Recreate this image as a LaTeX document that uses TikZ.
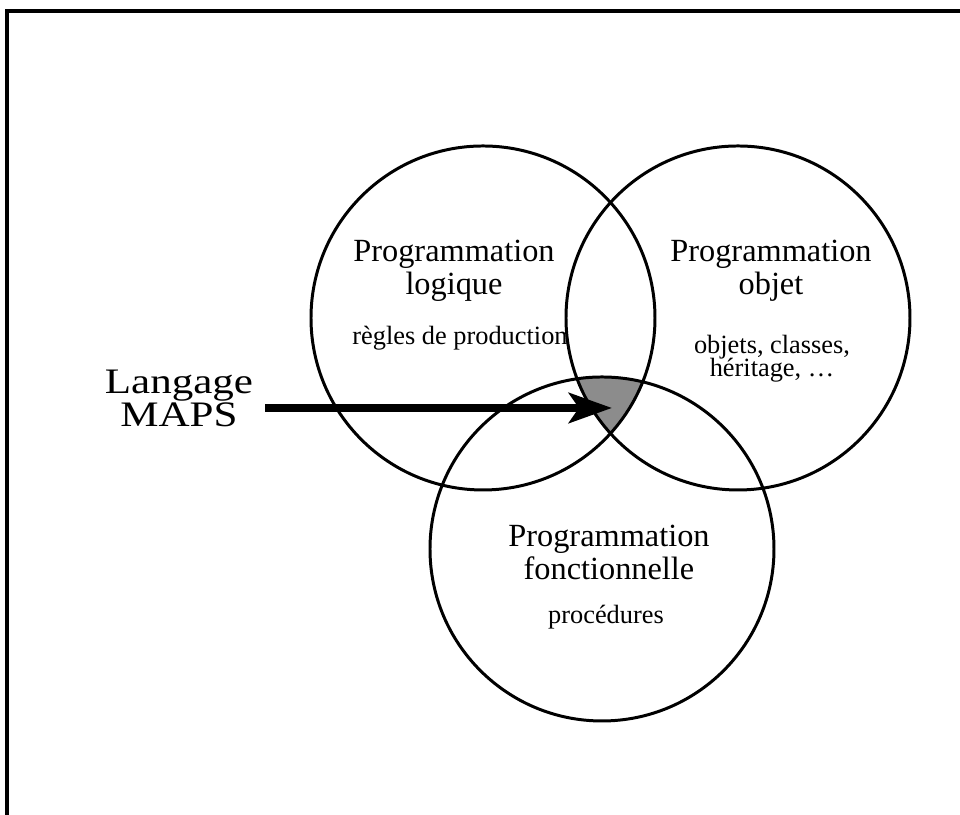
\documentclass[tikz,border=0pt]{standalone}
\usepackage{fontspec}
\setmainfont{Liberation Serif}
\newfontfamily\grandmaps[FakeStretch=1.2]{Liberation Serif}
\usetikzlibrary{arrows.meta}
\lineskiplimit=-20pt
\begin{document}
\begin{tikzpicture}[
    cercle/.style={line width=0.85pt},
    titre/.style={align=center, anchor=base, font=\fontsize{9.2}{9.4}\selectfont},
    detail/.style={align=center, anchor=base, font=\fontsize{7.5}{6.8}\selectfont}]
    \useasboundingbox (0,0) rectangle (9.6,8.15);
    \draw[line width=1.1pt] (0.07,0) |- (9.6,8.04);
    % centres des trois cercles
    \coordinate (logique) at (4.83,4.97);
    \coordinate (objet) at (7.38,4.97);
    \coordinate (fonction) at (6.02,2.66);
    \begin{scope}
        \clip (logique) circle (1.72cm);
        \clip (objet) circle (1.72cm);
        \fill[black!45] (fonction) circle (1.72cm);
    \end{scope}
    \draw[cercle] (logique) circle (1.72cm);
    \draw[cercle] (objet) circle (1.72cm);
    \draw[cercle] (fonction) circle (1.72cm);
    % textes
    \node[titre] (titrelog) at (4.54,5.20) {Programmation\\logique};
    \node[detail] (regles) at (4.60,4.70) {règles de production};
    \node[titre] (titreobj) at (7.71,5.20) {Programmation\\objet};
    \node[detail] (classes) at (7.72,4.38) {objets, classes,\\héritage, …};
    \node[titre] (titrefct) at (6.09,2.35) {Programmation\\fonctionnelle};
    \node[detail] (procedures) at (6.06,1.91) {procédures};
    % langage MAPS
    \coordinate (maps) at (6.12,4.07);
    \node[align=center, anchor=base, font=\grandmaps\fontsize{10.2}{9.5}\selectfont] (langage) at (1.79,3.88) {Langage\\MAPS};
    \draw[line width=2.3pt, -{Stealth[length=0.43cm, width=0.3cm, inset=0.1cm]}] (langage.east |- maps) -- (maps);
\end{tikzpicture}
\end{document}
